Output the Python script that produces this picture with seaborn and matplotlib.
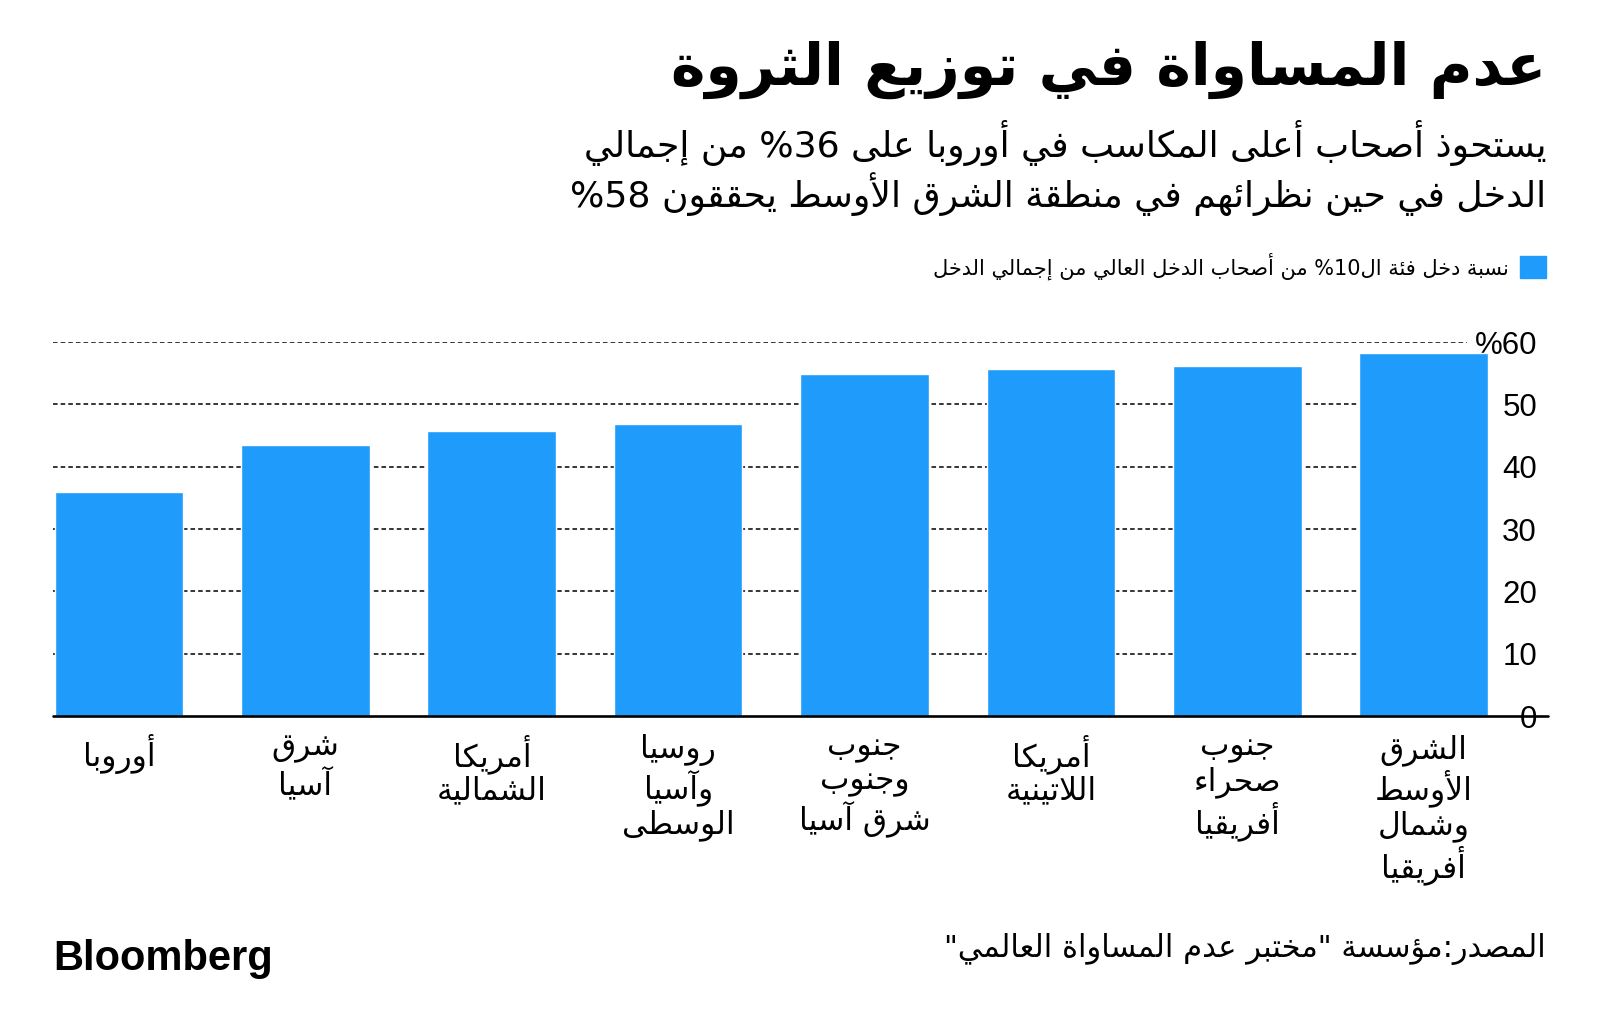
import re
import numpy as np
import pandas as pd
import seaborn as sns
import matplotlib
matplotlib.use("Agg")
import matplotlib.pyplot as plt
from matplotlib.patches import Patch

# البيانات
regions = ["أوروبا", "شرق\nآسيا", "أمريكا\nالشمالية", "روسيا\nوآسيا\nالوسطى",
           "جنوب\nوجنوب\nشرق آسيا", "أمريكا\nاللاتينية", "جنوب\nصحراء\nأفريقيا",
           "الشرق\nالأوسط\nوشمال\nأفريقيا"]
top10_share = [36.0, 43.4, 45.7, 46.9, 54.9, 55.7, 56.2, 58.2]
y_ticks = [0, 10, 20, 30, 40, 50, 60]
y_tick_labels = ["0", "10", "20", "30", "40", "50", "%60"]

title = "عدم المساواة في توزيع الثروة"
subtitle = ["يستحوذ أصحاب أعلى المكاسب في أوروبا على 36% من إجمالي",
            "الدخل في حين نظرائهم في منطقة الشرق الأوسط يحققون 58%"]
legend_label = "نسبة دخل فئة ال10% من أصحاب الدخل العالي من إجمالي الدخل"
source = "المصدر:مؤسسة \"مختبر عدم المساواة العالمي\""

BLUE = "#1E9BFB"

# تشكيل الحروف العربية (matplotlib لا يدعم الربط ولا الاتجاه من اليمين لليسار)
RIGHT_ONLY = {0x622, 0x623, 0x624, 0x625, 0x627, 0x629, 0x62F, 0x630,
              0x631, 0x632, 0x648, 0x649}
FORMS = {}
code = 0xFE80
for cp in list(range(0x621, 0x63B)) + list(range(0x641, 0x64B)):
    n = 1 if cp == 0x621 else (2 if cp in RIGHT_ONLY else 4)
    FORMS[chr(cp)] = (code, n)
    code += n
LAM_ALEF = {"\u0622": 0xFEF5, "\u0623": 0xFEF7, "\u0625": 0xFEF9, "\u0627": 0xFEFB}


def shape_line(text):
    chars = list(text)
    out = []
    i = 0
    while i < len(chars):
        ch = chars[i]
        if ch not in FORMS:
            out.append(ch)
            i += 1
            continue
        prev = chars[i - 1] if i > 0 else ""
        joins_prev = prev in FORMS and FORMS[prev][1] == 4
        if ch == "\u0644" and i + 1 < len(chars) and chars[i + 1] in LAM_ALEF:
            out.append(chr(LAM_ALEF[chars[i + 1]] + int(joins_prev)))
            i += 2
            continue
        nxt = chars[i + 1] if i + 1 < len(chars) else ""
        base, n = FORMS[ch]
        joins_next = n == 4 and nxt in FORMS and FORMS[nxt][1] >= 2
        if n == 1:
            form = 0
        elif joins_prev and joins_next:
            form = 3
        elif joins_prev:
            form = 1
        elif joins_next:
            form = 2
        else:
            form = 0
        out.append(chr(base + form))
        i += 1
    vis = "".join(out)[::-1]
    return re.sub(r"[0-9A-Za-z.]+", lambda m: m.group(0)[::-1], vis)


def ar(text):
    return "\n".join(shape_line(l) for l in text.split("\n"))


sns.set_theme(style="white")
plt.rcParams["font.family"] = ["DejaVu Sans"]
plt.rcParams["text.color"] = "black"
plt.rcParams["xtick.color"] = "black"
plt.rcParams["ytick.color"] = "black"

W, H = 1600, 1035
fig = plt.figure(figsize=(16, 10.35), dpi=100)

ax_l, ax_r, ax_b, ax_t = 53, 1488, 716, 342
ax = fig.add_axes([ax_l / W, 1 - ax_b / H, (ax_r - ax_l) / W, (ax_b - ax_t) / H])

df = pd.DataFrame({"region": regions, "share": top10_share})
sns.barplot(data=df, x="region", y="share", color=BLUE, width=0.69,
            saturation=1, ax=ax, zorder=3)

ax.set_xlim(-0.354, 7.345)
ax.set_ylim(0, 60)
for s in ax.spines.values():
    s.set_visible(False)

# خطوط الشبكة المنقطة
for v in y_ticks[1:]:
    ax.axhline(v, xmin=0, xmax=(1467 - ax_l) / (ax_r - ax_l), color="black",
               lw=1.1, ls=(0, (3, 2)), zorder=1)
ax.axhline(0, xmin=0, xmax=(1548 - ax_l) / (ax_r - ax_l), color="black",
           lw=1.9, zorder=4, clip_on=False)

ax.yaxis.tick_right()
ax.set_yticks(y_ticks)
ax.set_yticklabels(y_tick_labels, fontsize=22.5, family="Liberation Sans")
ax.tick_params(axis="y", length=0, pad=(1537 - ax_r) * 0.72)
for lab in ax.get_yticklabels():
    lab.set_horizontalalignment("right")

ax.set_xticks(range(len(regions)))
ax.set_xticklabels([ar(r) for r in regions], fontsize=22.5, linespacing=1.12)
ax.tick_params(axis="x", length=0, pad=13)
ax.set_xlabel("")
ax.set_ylabel("")

# العناوين
fig.text(1546 / W, 1 - 70 / H, ar(title), ha="right", va="center",
         fontsize=42, fontweight="bold")
fig.text(1546 / W, 1 - 143 / H, ar(subtitle[0]), ha="right", va="center", fontsize=26)
fig.text(1546 / W, 1 - 194 / H, ar(subtitle[1]), ha="right", va="center", fontsize=26)

leg = fig.legend(handles=[Patch(color=BLUE, label=ar(legend_label))],
                 loc="center right", bbox_to_anchor=(1546 / W, 1 - 266 / H),
                 bbox_transform=fig.transFigure, frameon=False, markerfirst=False,
                 fontsize=15, handlelength=1.25, handleheight=1.25,
                 handletextpad=0.55, borderpad=0, borderaxespad=0)

fig.text(1546 / W, 1 - 949 / H, ar(source), ha="right", va="center", fontsize=22)
fig.text(53 / W, 1 - 959 / H, "Bloomberg", ha="left", va="center", fontsize=30,
         fontweight="bold", family="Liberation Sans")

fig.savefig("out.png", dpi=100, facecolor="white")
